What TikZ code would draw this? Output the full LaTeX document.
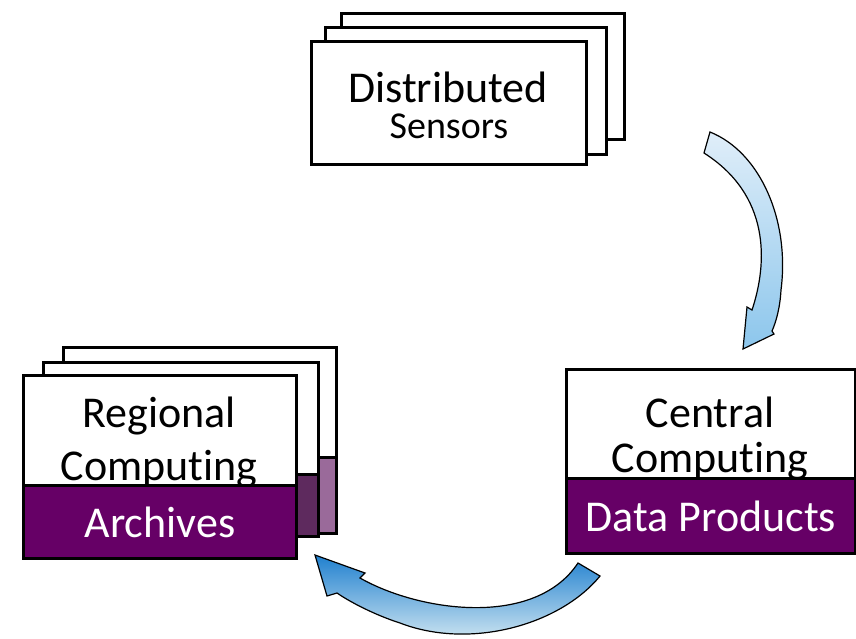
\documentclass[tikz,border=0pt]{standalone}
\usepackage{fontspec}
\setmainfont{Carlito}[Ligatures=NoCommon]
\definecolor{archpurple}{HTML}{660066}
\definecolor{midpurple}{HTML}{5E2A5E}
\definecolor{palepurple}{HTML}{9A6A9A}
\definecolor{flowdark}{HTML}{2080CF}
\definecolor{flowlight}{HTML}{E2F1F5}
\definecolor{flowpale}{HTML}{E0EEF9}
\definecolor{flowmid}{HTML}{8CC6EC}

\begin{document}
\begin{tikzpicture}[x=1pt,y=-1pt,
    card/.style={draw,line width=3pt,fill=white,rectangle,anchor=north west,inner sep=0pt},
    band/.style={card,fill=archpurple,text=white,font=\fontsize{44}{53}\selectfont},
    label/.style={anchor=base,inner sep=0pt,font=\fontsize{44}{53}\selectfont},
    flow/.style={draw=black,line width=1.2pt,line join=miter}]
  \useasboundingbox (0,0) rectangle (856,638);

  % distributed sensors (stack of three)
  \node[card,minimum width=283pt,minimum height=126pt] (sensC) at (340,12) {};
  \node[card,minimum width=281pt,minimum height=127pt] (sensB) at (324,26) {};
  \node[card,minimum width=275pt,minimum height=123pt] (sensA) at (310,40) {};
  \node[label] (sensTop) at (448,102) {Distributed};
  \node[label,font=\fontsize{38}{46}\selectfont] (sensBot) at (449,138) {Sensors};

  % regional computing (stack of three)
  \node[card,minimum width=273pt,minimum height=186pt] (regC) at (62,346) {};
  \node[band,fill=palepurple,minimum width=273pt,minimum height=76pt] (regCband) at (62,456) {};
  \node[card,minimum width=275pt,minimum height=174pt] (regB) at (42,361) {};
  \node[band,fill=midpurple,minimum width=275pt,minimum height=62pt] (regBband) at (42,473) {};
  \node[card,minimum width=273pt,minimum height=183pt] (regA) at (22,374) {};
  \node[label] (regTop) at (159,427) {Regional};
  \node[label] (regBot) at (159,480) {Computing};
  \node[band,minimum width=273pt,minimum height=73pt] (archives) at (22,484) {Archives};

  % central computing
  \node[card,minimum width=289pt,minimum height=184pt] (central) at (565,368) {};
  \node[label] (cenTop) at (710,427) {Central};
  \node[label] (cenBot) at (710,472) {Computing};
  \node[band,minimum width=289pt,minimum height=75pt] (products) at (565,477) {Data Products};

  % sensors -> central
  \draw[flow,top color=flowpale,bottom color=flowmid]
    (710,132) .. controls (760,152) and (790,220) .. (781,290)
    .. controls (780,308) and (776,322) .. (772,331)
    -- (774,334) -- (743,349) -- (747,307) -- (752,310)
    .. controls (768,262) and (770,195) .. (704,153) -- cycle;

  % central -> regional
  \draw[flow,top color=flowdark,bottom color=flowlight]
    (600,576) .. controls (560,625) and (470,650) .. (400,623)
    .. controls (375,615) and (350,602) .. (337,593)
    -- (327,596) -- (315,555) -- (365,573) -- (360,578)
    .. controls (420,612) and (535,628) .. (578,563) -- cycle;
\end{tikzpicture}
\end{document}
